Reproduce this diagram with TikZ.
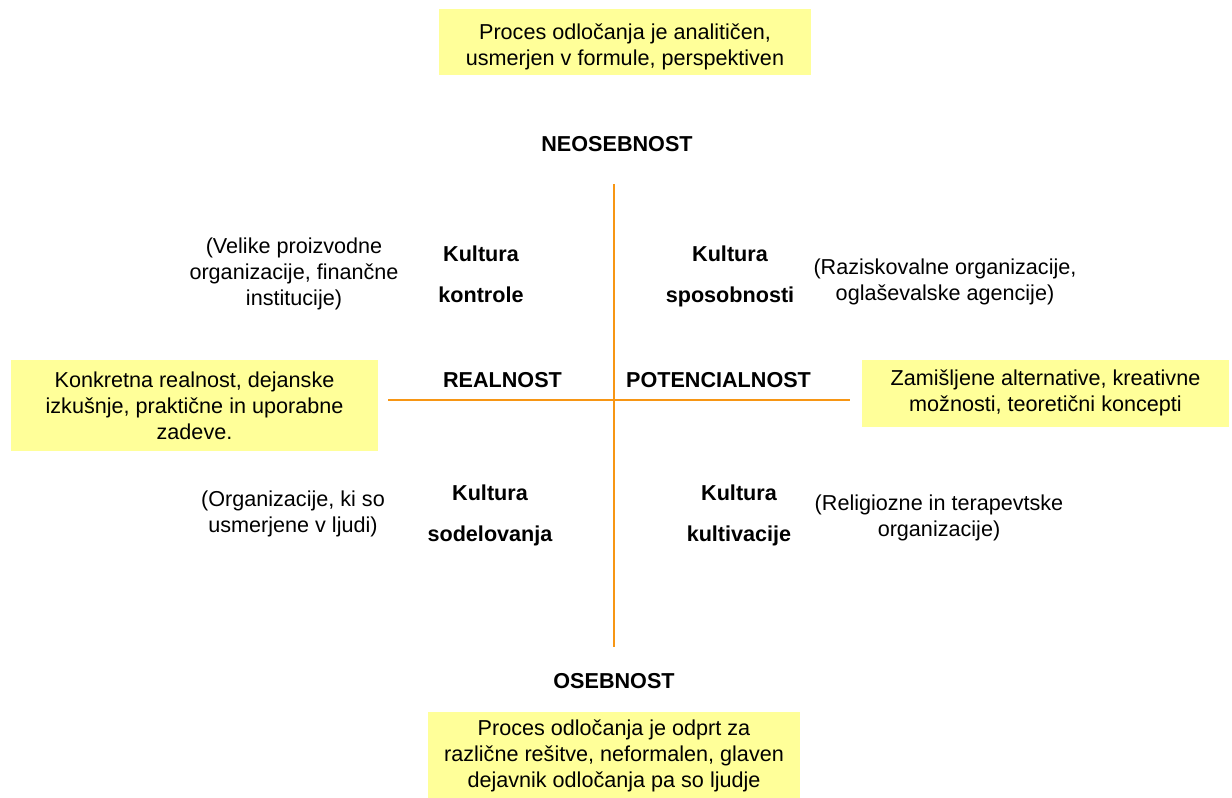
\documentclass[tikz,border=0pt]{standalone}
\usepackage{fontspec}
\setmainfont{Liberation Sans}
\definecolor{axisorange}{RGB}{247,150,20}
\definecolor{notefill}{RGB}{255,255,153}

\begin{document}
\begin{tikzpicture}[x=1pt,y=-1pt,
  every node/.style={inner sep=0pt, align=center,
    font=\fontsize{21.6}{26}\selectfont},
  note/.style={fill=notefill, anchor=center},
  heading/.style={font=\fontsize{21.6}{26}\selectfont\bfseries, anchor=base},
  % multi-line labels: the base anchor sits on the last line
  culture/.style={font=\fontsize{21.6}{41}\selectfont\bfseries, anchor=base},
  example/.style={anchor=base},
  axis/.style={draw=axisorange, line width=2.6pt}]

\useasboundingbox (0,0) rectangle (1232,798);

% axes
\coordinate (vtop) at (614,184);
\coordinate (vbot) at (614,647);
\coordinate (hleft) at (388,400);
\coordinate (hright) at (850,400);
\draw[axis] (vtop) -- (vbot);
\draw[axis] (hleft) -- (hright);

% yellow notes at the ends of the axes
\node[note, minimum width=372pt, minimum height=66pt] (analytic) at (625,42)
  {\rule{0pt}{24.5pt}Proces odločanja je analitičen,\\usmerjen v formule, perspektiven};
\node[note, minimum width=367pt, minimum height=91pt] (concrete) at (194.5,405.5)
  {Konkretna realnost, dejanske\\izkušnje, praktične in uporabne\\zadeve.};
\node[note, minimum width=367pt, minimum height=67pt] (imagined) at (1045.5,393)
  {Zamišljene alternative, kreativne\\možnosti, teoretični koncepti};
\node[note, minimum width=372pt, minimum height=88pt] (open) at (614,756)
  {Proces odločanja je odprt za\\različne rešitve, neformalen, glaven\\dejavnik odločanja pa so ljudje};

% axis headings
\node[heading] (impersonal) at (617,151) {NEOSEBNOST};
\node[heading] (personal) at (614,688) {OSEBNOST};
\node[heading] (reality) at (502.5,387) {REALNOST};
\node[heading] (potential) at (718.5,387) {POTENCIALNOST};

% the four cultures
\node[culture] (control) at (481,302) {Kultura\\kontrole};
\node[culture] (competence) at (730,302) {Kultura\\sposobnosti};
\node[culture] (collaboration) at (490,541) {Kultura\\sodelovanja};
\node[culture] (cultivation) at (739,541) {Kultura\\kultivacije};

% example organisations
\node[example] (exControl) at (294,305) {(Velike proizvodne\\organizacije, finančne\\institucije)};
\node[example] (exCompetence) at (945,300) {(Raziskovalne organizacije,\\oglaševalske agencije)};
\node[example] (exCollaboration) at (293,532) {(Organizacije, ki so\\usmerjene v ljudi)};
\node[example] (exCultivation) at (939,536) {(Religiozne in terapevtske\\organizacije)};

\end{tikzpicture}
\end{document}
